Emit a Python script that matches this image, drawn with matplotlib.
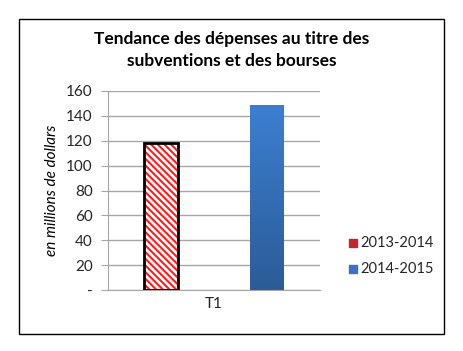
import numpy as np
import matplotlib
matplotlib.use('Agg')
import matplotlib.pyplot as plt
from matplotlib.patches import Rectangle
from matplotlib.colors import LinearSegmentedColormap

plt.rcParams['font.family'] = ['Lato', 'DejaVu Sans']
plt.rcParams['hatch.linewidth'] = 1.5

# données
series = ['2013-2014', '2014-2015']
values = [118, 148.5]
categories = ['T1']
yticks = [0, 20, 40, 60, 80, 100, 120, 140, 160]
ytick_labels = ['-', '20', '40', '60', '80', '100', '120', '140', '160']
title = 'Tendance des dépenses au titre des\nsubventions et des bourses'
ylabel = 'en millions de dollars'

W, H = 464, 351
fig = plt.figure(figsize=(W / 100, H / 100), dpi=100)
fig.patch.set_facecolor('white')

# cadre extérieur
fig.add_artist(Rectangle((19 / W, 1 - 334 / H), 425 / W, 315 / H,
                         transform=fig.transFigure, fill=False,
                         edgecolor='black', linewidth=1))

ax = fig.add_axes([108 / W, 1 - 290 / H, 212 / W, 199 / H])

grid_c = '#a6a6a6'
ax.set_yticks(yticks)
ax.set_yticklabels(ytick_labels)
ax.yaxis.grid(True, color=grid_c, linewidth=1)
ax.set_axisbelow(True)
for s in ['top', 'right']:
    ax.spines[s].set_visible(False)
ax.spines['left'].set_color(grid_c)
ax.spines['bottom'].set_color(grid_c)
ax.tick_params(axis='y', colors=grid_c, labelcolor='#262626', labelsize=11,
               length=5, direction='out', pad=6)
ax.set_xticks([0.5])
ax.set_xticklabels(categories)
ax.tick_params(axis='x', length=0, labelcolor='#262626', labelsize=11, pad=5)

width = 0.32
x_pos = [0, 1]

# barre hachurée (2013-2014)
ax.bar(x_pos[0], values[0], width, color='white', edgecolor='#ff1a1a',
       hatch='\\' * 5, linewidth=0, zorder=2)
ax.bar(x_pos[0], values[0], width, fill=False, edgecolor='black',
       linewidth=2, zorder=3)

# barre dégradé bleu (2014-2015)
blue_bar = ax.bar(x_pos[1], values[1], width, color='#3672bd', linewidth=0,
                  zorder=2)[0]
cmap = LinearSegmentedColormap.from_list('b', ['#2b5c97', '#3c7fd1'])
grad = np.linspace(0, 1, 256).reshape(-1, 1)
im = ax.imshow(grad, cmap=cmap, origin='lower', aspect='auto', zorder=2.5,
               extent=[x_pos[1] - width / 2, x_pos[1] + width / 2, 0, values[1]])
im.set_clip_path(blue_bar)
ax.set_xlim(-0.5, 1.5)
ax.set_ylim(0, 160)

ax.set_ylabel(ylabel, style='italic', fontsize=11, color='black', labelpad=5)

fig.text(232 / W, 1 - 50 / H, title, ha='center', va='center',
         fontsize=12.5, fontweight='bold', linespacing=1.4)

# légende
for i, (lab, col) in enumerate(zip(series, ['#c0282d', '#3b73c0'])):
    y = 1 - (243 + i * 26) / H
    fig.add_artist(Rectangle((349 / W, y - 4 / H), 8 / W, 8 / H,
                             transform=fig.transFigure, color=col))
    fig.text(360 / W, y, lab, fontsize=10.5, va='center', color='#262626')

fig.savefig('out.png', dpi=100)
